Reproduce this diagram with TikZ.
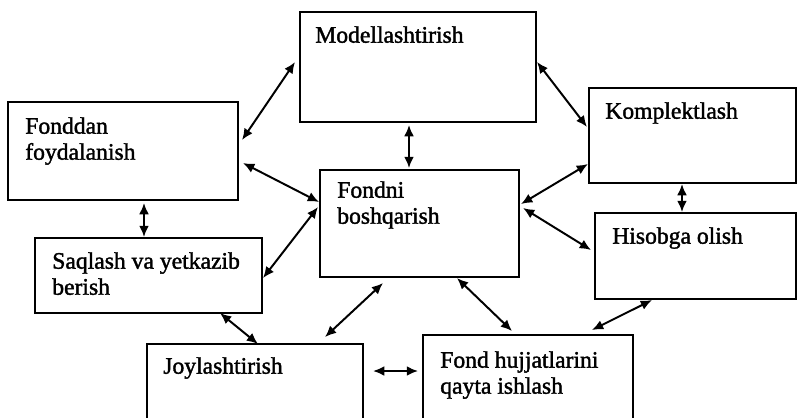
\documentclass[tikz,border=0pt]{standalone}
\usepackage{fontspec}
\setmainfont{Liberation Serif}[BoldFont=Liberation Serif, BoldFeatures={FakeBold=1.6}]
\usetikzlibrary{arrows.meta}

\begin{document}
\begin{tikzpicture}[x=0.025cm, y=-0.025cm,
    box/.style={draw, line width=1.3pt, anchor=north west, outer sep=0pt, inner sep=0pt},
    txt/.style={anchor=north west, inner sep=0pt, align=left, font=\fontsize{16.8}{18.5}\selectfont\bfseries},
    link/.style={{Latex[length=8pt,width=7pt]}-{Latex[length=8pt,width=7pt]}, line width=1.4pt}]
    \clip (0,0) rectangle (798,417);
    % boxes
    \node[box, minimum width=5.9cm, minimum height=2.75cm] (modell) at (300,12) {};
    \node[box, minimum width=5.75cm, minimum height=2.45cm] (fonddan) at (8,102) {};
    \node[box, minimum width=5.175cm, minimum height=2.375cm] (kompl) at (589,88) {};
    \node[box, minimum width=4.975cm, minimum height=2.675cm] (fondni) at (320,170) {};
    \node[box, minimum width=5.675cm, minimum height=1.875cm] (saqlash) at (35,238) {};
    \node[box, minimum width=5.025cm, minimum height=2.15cm] (hisob) at (595,213) {};
    \node[box, minimum width=5.4cm, minimum height=2.25cm] (joyl) at (147,344) {};
    \node[box, minimum width=5.25cm, minimum height=2.375cm] (hujjat) at (423,335) {};
    % texts
    \node[txt] (modell-t) at ([shift={(15,14)}]modell.north west) {Modellashtirish};
    \node[txt] (fonddan-t) at ([shift={(17,15)}]fonddan.north west) {Fonddan\\foydalanish};
    \node[txt] (kompl-t) at ([shift={(16,14)}]kompl.north west) {Komplektlash};
    \node[txt] (fondni-t) at ([shift={(17,11)}]fondni.north west) {Fondni\\boshqarish};
    \node[txt] (saqlash-t) at ([shift={(17,14)}]saqlash.north west) {Saqlash va yetkazib\\berish};
    \node[txt] (hisob-t) at ([shift={(17,14)}]hisob.north west) {Hisobga olish};
    \node[txt] (joyl-t) at ([shift={(16,13)}]joyl.north west) {Joylashtirish};
    \node[txt] (hujjat-t) at ([shift={(17,16)}]hujjat.north west) {Fond hujjatlarini\\qayta ishlash};
    % arrows
    \draw[link] ([shift={(4,38)}]fonddan.north east) -- ([shift={(-5,-60)}]modell.south west);
    \draw[link] ([shift={(5,61)}]fonddan.north east) -- ([shift={(-1,32)}]fondni.north west);
    \draw[link] ([shift={(109,3)}]modell.south west) -- ([shift={(89,-2)}]fondni.north west);
    \draw[link] ([shift={(1,50)}]modell.north east) -- ([shift={(-2,39)}]kompl.north west);
    \draw[link] ([shift={(-1,76)}]kompl.north west) -- ([shift={(2,34)}]fondni.north east);
    \draw[link] ([shift={(93,1)}]kompl.south west) -- ([shift={(87,-1)}]hisob.north west);
    \draw[link] ([shift={(136,3)}]fonddan.south west) -- ([shift={(109,-1)}]saqlash.north west);
    \draw[link] ([shift={(1,40)}]saqlash.north east) -- ([shift={(-2,37)}]fondni.north west);
    \draw[link] ([shift={(4,38)}]fondni.north east) -- ([shift={(-4,37)}]hisob.north west);
    \draw[link] ([shift={(185,0)}]saqlash.south west) -- ([shift={(111,0)}]joyl.north west);
    \draw[link] ([shift={(63,6)}]fondni.south west) -- ([shift={(178,-7)}]joyl.north west);
    \draw[link] ([shift={(137,1)}]fondni.south west) -- ([shift={(89,-4)}]hujjat.north west);
    \draw[link] ([shift={(57,1)}]hisob.south west) -- ([shift={(169,-5)}]hujjat.north west);
    \draw[link] ([shift={(10,27)}]joyl.north east) -- ([shift={(-5,36)}]hujjat.north west);
\end{tikzpicture}
\end{document}
